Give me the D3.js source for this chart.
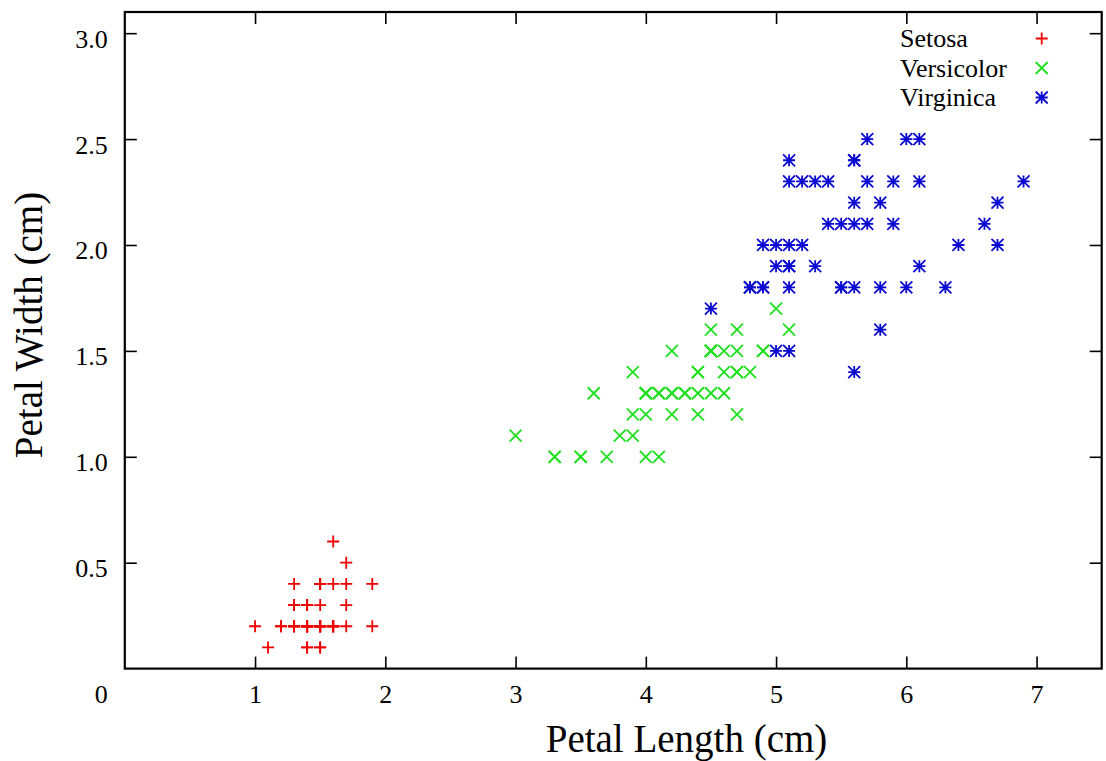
<!DOCTYPE html>
<html>
<head>
<meta charset="utf-8">
<script src="https://cdn.jsdelivr.net/npm/d3@7"></script>
<style>
  body { margin: 0; background: #fff; }
  svg text { font-family: "Liberation Serif", "Times New Roman", serif; fill: #000; }
</style>
</head>
<body>
<div id="scatter"></div>
<script>
var setosaLength = [1.4,1.4,1.3,1.5,1.4,1.7,1.4,1.5,1.4,1.5,1.5,1.6,1.4,1.1,1.2,1.5,1.3,1.4,1.7,1.5,1.7,1.5,1.0,1.7,1.9,1.6,1.6,1.5,1.4,1.6,1.6,1.5,1.5,1.4,1.5,1.2,1.3,1.4,1.3,1.5,1.3,1.3,1.3,1.6,1.9,1.4,1.6,1.4,1.5,1.4];
var setosaWidth  = [0.2,0.2,0.2,0.2,0.2,0.4,0.3,0.2,0.2,0.1,0.2,0.2,0.1,0.1,0.2,0.4,0.4,0.3,0.3,0.3,0.2,0.4,0.2,0.5,0.2,0.2,0.4,0.2,0.2,0.2,0.2,0.4,0.1,0.2,0.2,0.2,0.2,0.1,0.2,0.2,0.3,0.3,0.2,0.6,0.4,0.3,0.2,0.2,0.2,0.2];

var versicolorLength = [4.7,4.5,4.9,4.0,4.6,4.5,4.7,3.3,4.6,3.9,3.5,4.2,4.0,4.7,3.6,4.4,4.5,4.1,4.5,3.9,4.8,4.0,4.9,4.7,4.3,4.4,4.8,5.0,4.5,3.5,3.8,3.7,3.9,5.1,4.5,4.5,4.7,4.4,4.1,4.0,4.4,4.6,4.0,3.3,4.2,4.2,4.2,4.3,3.0,4.1];
var versicolorWidth  = [1.4,1.5,1.5,1.3,1.5,1.3,1.6,1.0,1.3,1.4,1.0,1.5,1.0,1.4,1.3,1.4,1.5,1.0,1.5,1.1,1.8,1.3,1.5,1.2,1.3,1.4,1.4,1.7,1.5,1.0,1.1,1.0,1.2,1.6,1.5,1.6,1.5,1.3,1.3,1.3,1.2,1.4,1.2,1.0,1.3,1.2,1.3,1.3,1.1,1.3];

var virginicaLength = [6.0,5.1,5.9,5.6,5.8,6.6,4.5,6.3,5.8,6.1,5.1,5.3,5.5,5.0,5.1,5.3,5.5,6.7,6.9,5.0,5.7,4.9,6.7,4.9,5.7,6.0,4.8,4.9,5.6,5.8,6.1,6.4,5.6,5.1,5.6,6.1,5.6,5.5,4.8,5.4,5.6,5.1,5.1,5.9,5.7,5.2,5.0,5.2,5.4,5.1];
var virginicaWidth  = [2.5,1.9,2.1,1.8,2.2,2.1,1.7,1.8,1.8,2.5,2.0,1.9,2.1,2.0,2.4,2.3,1.8,2.2,2.3,1.5,2.3,2.0,2.0,1.8,2.1,1.8,1.8,1.8,2.1,1.6,1.9,2.0,2.2,1.5,1.4,2.3,2.4,1.8,1.8,2.1,2.4,2.3,1.9,2.3,2.5,2.3,1.9,2.0,2.3,1.8];

var speciesNames = ["Setosa", "Versicolor", "Virginica"];
var speciesColors = ["#f00000", "#1ee01e", "#0a0ad2"];
var speciesMarkers = ["plus", "cross", "star"];

var xTicks = [1, 2, 3, 4, 5, 6, 7];
var yTicks = [0.5, 1.0, 1.5, 2.0, 2.5, 3.0];

//svg and chart area
var svgWidth = 1106;
var svgHeight = 761;

var margin = {
    top: 12,
    right: 4.3,
    bottom: 92.4,
    left: 124.8
};

var width = svgWidth - margin.left - margin.right;
var height = svgHeight - margin.top - margin.bottom;

var svg = d3.select("#scatter")
    .append("svg")
    .attr("width", svgWidth)
    .attr("height", svgHeight);

var chartGroup = svg.append("g")
    .attr("transform", `translate(${margin.left}, ${margin.top})`);

var xLinearScale = d3.scaleLinear()
    .domain([0, 7.5])
    .range([0, width]);

var yLinearScale = d3.scaleLinear()
    .domain([0, 3.1])
    .range([height, 0]);

// ticks point inward, mirrored on top and right like gnuplot
var bottomAxis = d3.axisBottom(xLinearScale).tickValues(xTicks).tickSize(-12).tickFormat(d3.format("d"));
var leftAxis = d3.axisLeft(yLinearScale).tickValues(yTicks).tickSize(-12).tickFormat(d3.format(".1f"));
var topAxis = d3.axisTop(xLinearScale).tickValues(xTicks).tickSize(-12).tickFormat("");
var rightAxis = d3.axisRight(yLinearScale).tickValues(yTicks).tickSize(-12).tickFormat("");

var xAxisG = chartGroup.append("g")
    .attr("transform", `translate(0, ${height})`)
    .call(bottomAxis);
var yAxisG = chartGroup.append("g").call(leftAxis);
var topG = chartGroup.append("g").call(topAxis);
var rightG = chartGroup.append("g")
    .attr("transform", `translate(${width}, 0)`)
    .call(rightAxis);

[xAxisG, yAxisG, topG, rightG].forEach(function (g) {
    g.select(".domain").remove();
    g.selectAll(".tick line").attr("stroke", "#000").attr("stroke-width", 1.6);
});

xAxisG.selectAll(".tick text")
    .attr("y", 34).attr("dy", 0)
    .style("font-size", "26px")
    .style("font-family", "Liberation Serif");

yAxisG.selectAll(".tick text")
    .attr("x", -17).attr("dy", 14)
    .style("font-size", "26px")
    .style("font-family", "Liberation Serif");

// lone origin label
chartGroup.append("text")
    .attr("x", xLinearScale(0) - 17)
    .attr("y", yLinearScale(0) + 34)
    .attr("text-anchor", "end")
    .style("font-size", "26px")
    .text("0");

// frame
chartGroup.append("rect")
    .attr("width", width)
    .attr("height", height)
    .attr("fill", "none")
    .attr("stroke", "#000")
    .attr("stroke-width", 2.2);

// marker paths, half size s
function markerPath(type, s) {
    var plus = `M${-s},0H${s}M0,${-s}V${s}`;
    var cross = `M${-s},${-s}L${s},${s}M${-s},${s}L${s},${-s}`;
    if (type === "plus") return plus;
    if (type === "cross") return cross;
    return plus + cross;
}

var series = [
    { len: setosaLength, wid: setosaWidth },
    { len: versicolorLength, wid: versicolorWidth },
    { len: virginicaLength, wid: virginicaWidth }
];

series.forEach(function (sr, i) {
    var pts = sr.len.map(function (d, j) { return [d, sr.wid[j]]; });
    chartGroup.append("g").selectAll("path")
        .data(pts)
        .enter()
        .append("path")
        .attr("transform", d => `translate(${xLinearScale(d[0])}, ${yLinearScale(d[1])})`)
        .attr("d", markerPath(speciesMarkers[i], 6))
        .attr("fill", "none")
        .attr("stroke", speciesColors[i])
        .attr("stroke-width", 1.8);
});

// legend
var legend = svg.append("g");
speciesNames.forEach(function (name, i) {
    var ly = 38.5 + i * 29.5;
    legend.append("text")
        .attr("x", 900)
        .attr("y", ly + 8.5)
        .style("font-size", "26px")
        .text(name);
    legend.append("path")
        .attr("transform", `translate(1041.7, ${ly})`)
        .attr("d", markerPath(speciesMarkers[i], 6))
        .attr("fill", "none")
        .attr("stroke", speciesColors[i])
        .attr("stroke-width", 1.8);
});

//axis labels
chartGroup.append("text")
    .attr("transform", "rotate(-90)")
    .attr("y", 42 - margin.left)
    .attr("x", -(325 - margin.top))
    .attr("text-anchor", "middle")
    .style("font-size", "39px")
    .text("Petal Width (cm)");

chartGroup.append("text")
    .attr("x", 686.5 - margin.left)
    .attr("y", 752 - margin.top)
    .attr("text-anchor", "middle")
    .style("font-size", "39px")
    .text("Petal Length (cm)");
</script>
</body>
</html>
